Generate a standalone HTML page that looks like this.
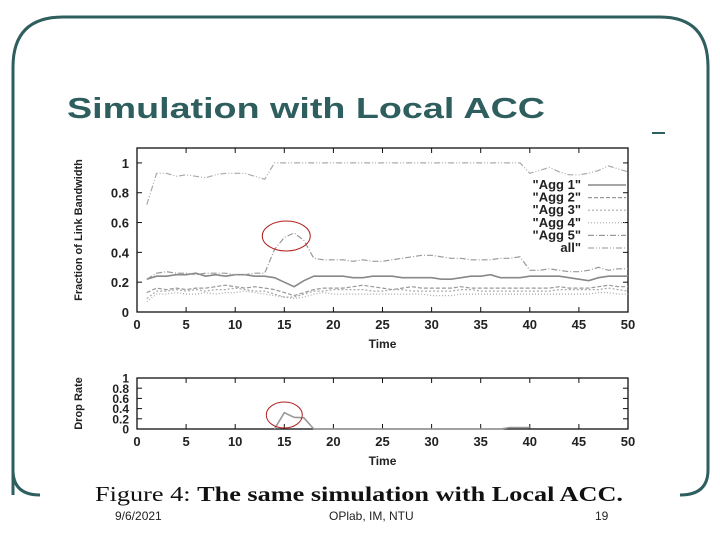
<!DOCTYPE html>
<html><head><meta charset="utf-8"><style>
html,body{margin:0;padding:0;background:#fff;}
body{width:720px;height:540px;position:relative;overflow:hidden;font-family:"Liberation Sans",sans-serif;}
</style></head><body>
<svg id="s" width="720" height="540" xmlns="http://www.w3.org/2000/svg">
<path d="M13,495 L13,67 Q13,17 63,17 L660,17 Q708,17 708,67 L708,470 Q708,495 680,495" fill="none" stroke="#2e5e5e" stroke-width="3"/>
<path d="M13,470 Q13,495 40,495" fill="none" stroke="#2e5e5e" stroke-width="3"/>
<text x="67" y="118" font-size="29" font-weight="bold" fill="#2e5e5e" font-family="Liberation Sans, sans-serif" textLength="478" lengthAdjust="spacingAndGlyphs">Simulation with Local ACC</text>
<rect x="652" y="132" width="13" height="2" fill="#2e5e5e"/>
<g id="top"></g>
<g id="bot"></g>
<rect x="60" y="480" width="600" height="26" fill="#fff"/>
<text x="95" y="501" font-size="21" font-family="Liberation Serif, serif" fill="#111" textLength="528" lengthAdjust="spacingAndGlyphs">Figure 4: <tspan font-weight="bold">The same simulation with Local ACC.</tspan></text>
<text x="115" y="520" font-size="12" fill="#222">9/6/2021</text>
<text x="329" y="520" font-size="12" fill="#222">OPlab, IM, NTU</text>
<text x="595" y="520" font-size="12" fill="#222">19</text>
</svg>
<script>
const times=[1,2,3,4,5,6,7,8,9,10,11,12,13,14,15,16,17,18,19,20,21,22,23,24,25,26,27,28,29,30,31,32,33,34,35,36,37,38,39,40,41,42,43,44,45,46,47,48,49,50];
const seriesNames=['"Agg 1"','"Agg 2"','"Agg 3"','"Agg 4"','"Agg 5"','all"'];
const agg1=[.22,.24,.24,.25,.25,.26,.24,.25,.24,.25,.25,.24,.24,.23,.20,.17,.21,.24,.24,.24,.24,.23,.23,.24,.24,.24,.23,.23,.23,.23,.22,.22,.23,.24,.24,.25,.23,.23,.23,.24,.24,.24,.24,.23,.22,.21,.23,.24,.24,.24];
const agg2=[.13,.16,.15,.16,.15,.16,.16,.17,.18,.17,.16,.17,.16,.15,.13,.11,.13,.15,.16,.16,.16,.17,.18,.17,.16,.15,.16,.17,.16,.16,.16,.16,.17,.16,.16,.16,.16,.16,.16,.16,.16,.16,.17,.16,.16,.16,.17,.18,.17,.17];
const agg3=[.09,.14,.14,.15,.14,.15,.14,.15,.15,.16,.15,.14,.14,.12,.10,.10,.12,.14,.14,.15,.15,.15,.15,.14,.14,.15,.15,.14,.14,.14,.14,.14,.15,.15,.14,.14,.14,.14,.14,.14,.14,.14,.15,.15,.15,.15,.15,.16,.15,.14];
const agg4=[.07,.12,.12,.13,.12,.12,.13,.12,.13,.13,.14,.13,.12,.11,.10,.09,.10,.12,.13,.12,.12,.12,.12,.12,.12,.12,.12,.12,.12,.11,.11,.11,.12,.12,.12,.12,.12,.12,.12,.12,.12,.12,.12,.12,.12,.12,.13,.13,.12,.12];
const agg5=[.22,.26,.27,.26,.26,.25,.26,.26,.26,.25,.25,.26,.26,.42,.50,.53,.48,.36,.35,.35,.35,.34,.35,.34,.34,.35,.36,.37,.38,.38,.37,.36,.36,.35,.35,.35,.36,.36,.37,.28,.28,.29,.28,.27,.27,.28,.30,.28,.29,.29];
const allSeries=[.72,.93,.93,.91,.92,.91,.90,.92,.93,.93,.93,.91,.89,1,1,1,1,1,1,1,1,1,1,1,1,1,1,1,1,1,1,1,1,1,1,1,1,1,1,.93,.95,.97,.94,.92,.92,.93,.95,.98,.96,.94];
const dropTimes=[14,15,16,17,18,19,24,26,27,37,38,39,40];
const dropRate=[0,.32,.23,.22,0,0,0,0,0,0,.03,.03,.03];
const xTicks=[0,5,10,15,20,25,30,35,40,45,50];
const yTicksTop=['0','0.2','0.4','0.6','0.8','1'];
const yTicksBot=['0','0.2','0.4','0.6','0.8','1'];

const NS='http://www.w3.org/2000/svg';
function mk(p,tag,at){const e=document.createElementNS(NS,tag);for(const k in at)e.setAttribute(k,at[k]);p.appendChild(e);return e;}
const X0=137,X1=628;
const xs=v=>X0+(X1-X0)*v/50;
function axes(g,t0,b0,ymax,labels,ylabel,fs){
  const ys=v=>b0-(b0-t0)*v/ymax;
  const frame=mk(g,'rect',{x:X0,y:t0,width:X1-X0,height:b0-t0,fill:'none',stroke:'#111','stroke-width':1.3});
  
  
  xTicks.forEach(t=>{
    const x=xs(t);
    mk(g,'line',{x1:x,x2:x,y1:b0,y2:b0-5,stroke:'#111'});
    mk(g,'line',{x1:x,x2:x,y1:t0,y2:t0+5,stroke:'#111'});
    const tx=mk(g,'text',{x:x,y:b0+17,'font-size':13,'font-weight':'bold','text-anchor':'middle',fill:'#222'});
    tx.textContent=t;
    
    
  });
  labels.forEach(l=>{
    const y=ys(parseFloat(l));
    mk(g,'line',{x1:X0,x2:X0+5,y1:y,y2:y,stroke:'#111'});
    mk(g,'line',{x1:X1,x2:X1-5,y1:y,y2:y,stroke:'#111'});
    const tx=mk(g,'text',{x:X0-8,y:y+fs*0.38,'font-size':fs,'font-weight':'bold','text-anchor':'end',fill:'#222'});
    tx.textContent=l;
    
    
  });
  const xt=mk(g,'text',{x:(X0+X1)/2,y:b0+36,'font-size':12,'font-weight':'bold','text-anchor':'middle',fill:'#222'});
  xt.textContent='Time';
  
  
  const cy=(t0+b0)/2;
  const yt=mk(g,'text',{x:82,y:cy,'font-size':11,'font-weight':'bold','text-anchor':'middle',fill:'#222',transform:`rotate(-90 82 ${cy})`});
  yt.textContent=ylabel;
  
  
  return ys;
}
const gTop=document.getElementById('top');
const ysT=axes(gTop,148,312,1.1,yTicksTop,'Fraction of Link Bandwidth',13);
const styles=[['#888','',1.6],['#999','4,2',1.2],['#aaa','2,2',1.2],['#aaa','1,2',1.2],['#999','6,2,1,2',1.2],['#aaa','6,2,1,2,1,2',1.2]];
const data=[agg1,agg2,agg3,agg4,agg5,allSeries];
const names=['line-agg1','line-agg2','line-agg3','line-agg4','line-agg5','line-all'];
data.forEach((d,i)=>{
  const pts=d.map((v,j)=>xs(times[j]).toFixed(1)+','+ysT(v).toFixed(1)).join(' ');
  const pl=mk(gTop,'polyline',{points:pts,fill:'none',stroke:styles[i][0],'stroke-width':styles[i][2],'stroke-dasharray':styles[i][1]});
  
  
  const ly=185+i*12.6;
  const lt=mk(gTop,'text',{x:581,y:ly+4,'font-size':13,'font-weight':'bold','text-anchor':'end',fill:'#222'});
  lt.textContent=seriesNames[i];
  
  
  const ll=mk(gTop,'line',{x1:588,x2:626,y1:ly,y2:ly,stroke:styles[i][0],'stroke-width':styles[i][2],'stroke-dasharray':styles[i][1]});
  
  
});
const c1=mk(gTop,'ellipse',{cx:xs(15.2),cy:236,rx:24,ry:15,fill:'none',stroke:'#b02020','stroke-width':1});



const gBot=document.getElementById('bot');
const ysB=axes(gBot,378,429,1,yTicksBot,'Drop Rate',12);
const dp=dropTimes.map((t,j)=>xs(t).toFixed(1)+','+ysB(dropRate[j]).toFixed(1)).join(' ');
const dl=mk(gBot,'polyline',{points:dp,fill:'none',stroke:'#999','stroke-width':1.6});


const c2=mk(gBot,'ellipse',{cx:xs(15),cy:415,rx:18,ry:13,fill:'none',stroke:'#b02020','stroke-width':1});


</script>
</body></html>
